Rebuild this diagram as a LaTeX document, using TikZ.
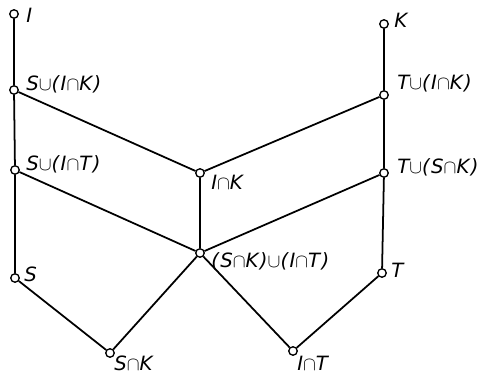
\documentclass[tikz,border=0pt]{standalone}
\usepackage{fontspec}
\setmainfont{DejaVu Sans}
\usetikzlibrary{calc}
% union and intersection signs
\newcommand\un{\ensuremath{\cup}}
\newcommand\is{\ensuremath{\cap}}
\begin{document}
\begin{tikzpicture}[x=0.02cm,y=-0.02cm,
  pt/.style={circle,draw,fill=white,line width=0.75pt,inner sep=0pt,minimum size=0.17cm},
  lab/.style={anchor=base west,inner sep=0pt,
    font=\fontsize{11.2}{13}\selectfont\itshape\addfontfeature{LetterSpace=7}},
  edge/.style={line width=1pt}]
\useasboundingbox (0,0) rectangle (485,375);
% lattice elements
\node[pt] (I)   at (14,14)  {};
\node[pt] (SIK) at (14,90)  {};
\node[pt] (SIT) at (15,170) {};
\node[pt] (S)   at (15,278) {};
\node[pt] (SK)  at (110,353) {};
\node[pt] (IK)  at (200,173) {};
\node[pt] (X)   at (200,253) {};
\node[pt] (IT)  at (293,351) {};
\node[pt] (T)   at (382,273) {};
\node[pt] (TSK) at (384,173) {};
\node[pt] (TIK) at (384,95)  {};
\node[pt] (K)   at (384,24)  {};
% covering relations
\draw[edge] (I) -- (SIK) -- (SIT) -- (S) -- (SK) -- (X) -- (IT) -- (T) -- (TSK) -- (TIK) -- (K);
\draw[edge] (SIK) -- (IK) -- (TIK);
\draw[edge] (SIT) -- (X) -- (TSK);
\draw[edge] (IK) -- (X);
% labels
\node[lab] at ($(I)+(12,9)$)    {I};
\node[lab] at ($(SIK)+(12,1)$)  {S\un(I\is K)};
\node[lab] at ($(SIT)+(11,1)$)  {S\un(I\is T)};
\node[lab] at ($(S)+(9,4)$)     {S};
\node[lab] at ($(SK)+(4,18)$)   {S\is K};
\node[lab] at ($(IK)+(11,17)$)  {I\is K};
\node[lab] at ($(X)+(11,15)$)   {(S\is K)\un(I\is T)};
\node[lab] at ($(IT)+(4,20)$)   {I\is T};
\node[lab] at ($(T)+(9,5)$)     {T};
\node[lab] at ($(TSK)+(13,1)$)  {T\un(S\is K)};
\node[lab] at ($(TIK)+(13,-5)$) {T\un(I\is K)};
\node[lab] at ($(K)+(10,4)$)    {K};
\end{tikzpicture}
\end{document}
